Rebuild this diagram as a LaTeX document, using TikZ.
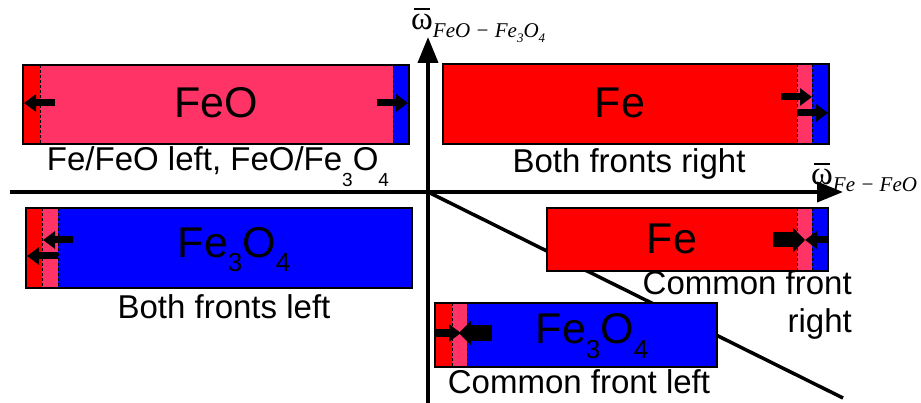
\documentclass[tikz,border=0pt]{standalone}
\usepackage{fontspec}
\setmainfont{Liberation Sans}
\newfontfamily\tnr{Liberation Serif}
\usetikzlibrary{arrows.meta}
\definecolor{cred}{RGB}{255,0,0}
\definecolor{cpink}{RGB}{255,51,102}
\definecolor{cblue}{RGB}{0,0,255}
\newcommand{\phsub}[3]{\raisebox{#1}{\fontsize{#2}{#2}\selectfont #3}}
\newcommand{\wbar}{{\tnr\fontsize{33}{33}\selectfont\makebox[0pt][l]{\hspace{3pt}\raisebox{20pt}{\rule{16pt}{1.7pt}}}ω}}
\tikzset{
  boxline/.style={draw=black, line width=2pt},
  dashsep/.style={line width=0.8pt, dash pattern=on 3pt off 2pt},
  thinarr/.style={line width=7pt, -{Triangle[length=12pt,width=17pt]}},
  thickarr/.style={line width=15pt, -{Triangle[length=12pt,width=24pt]}},
  axisarr/.style={line width=4pt, -{Triangle[length=26pt,width=20pt]}},
  title/.style={font=\fontsize{43}{43}\selectfont, anchor=base, inner sep=0pt},
  caption/.style={font=\fontsize{33}{33}\selectfont, anchor=base, inner sep=0pt},
  axlabel/.style={anchor=base west, inner sep=0pt},
}
\begin{document}
\begin{tikzpicture}[x=1pt,y=-1pt]
\useasboundingbox (0,0) rectangle (921,403);
% axes
\coordinate (O) at (428,192);
\coordinate (ybot) at (428,403);
\coordinate (ytop) at (428,37);
\coordinate (xl) at (10,192);
\coordinate (xr) at (843,192);
\coordinate (dend) at (843,398);
\draw[axisarr] (xl) -- (xr);
\draw[axisarr] (ybot) -- (ytop);
\draw[line width=3.5pt] (O) -- (dend);
\node[axlabel] (wy) at (411,30) {\wbar\phsub{-8pt}{21}{\tnr\itshape FeO − Fe\phsub{-5pt}{13}{3}O\phsub{-5pt}{13}{4}}};
\node[axlabel] (wx) at (811,185) {\wbar\phsub{-7pt}{21}{\tnr\itshape Fe − FeO}};

% Box 1: FeO
\fill[cpink] (23,65) rectangle (409,144);
\fill[cred] (23,65) rectangle (40,144);
\fill[cblue] (393,65) rectangle (409,144);
\draw[dashsep] (40,65) -- (40,144);
\draw[dashsep] (393,65) -- (393,144);
\draw[boxline] (23,65) rectangle (409,144);
\coordinate (a1s) at (55,103); \coordinate (a1t) at (24,103);
\coordinate (a2s) at (377,103); \coordinate (a2t) at (408,103);
\draw[thinarr] (a1s) -- (a1t);
\draw[thinarr] (a2s) -- (a2t);
\node[title] (t1) at (216,118) {FeO};
\node[caption] (c1) at (218,171) {Fe/FeO left, FeO/Fe\phsub{-16pt}{19}{3}O\phsub{-16pt}{19}{4}};

% Box 2: Fe (both right)
\fill[cred] (443,64) rectangle (829,144);
\fill[cpink] (797,64) rectangle (812,144);
\fill[cblue] (812,64) rectangle (829,144);
\draw[dashsep] (797,64) -- (797,144);
\draw[dashsep] (812,64) -- (812,144);
\draw[boxline] (443,64) rectangle (829,144);
\coordinate (b1s) at (781,97); \coordinate (b1t) at (812,97);
\coordinate (b2s) at (797,113); \coordinate (b2t) at (828,113);
\draw[thinarr] (b1s) -- (b1t);
\draw[thinarr] (b2s) -- (b2t);
\node[title] (t2) at (620,118) {Fe};
\node[caption] (c2) at (629,173) {Both fronts right};

% Box 3: Fe3O4 (both left)
\fill[cblue] (26,208) rectangle (412,288);
\fill[cred] (26,208) rectangle (42,288);
\fill[cpink] (42,208) rectangle (58,288);
\draw[dashsep] (42,208) -- (42,288);
\draw[dashsep] (58,208) -- (58,288);
\draw[boxline] (26,208) rectangle (412,288);
\coordinate (c1s) at (73,240); \coordinate (c1t) at (43,240);
\coordinate (c2s) at (58,256); \coordinate (c2t) at (27,256);
\draw[thinarr] (c1s) -- (c1t);
\draw[thinarr] (c2s) -- (c2t);
\node[title] (t3) at (234,258) {Fe\phsub{-14pt}{26}{3}O\phsub{-14pt}{26}{4}};
\node[caption] (c3) at (224,319) {Both fronts left};

% Box 4: Fe (common front right)
\fill[cred] (547,208) rectangle (828,271);
\fill[cpink] (797,208) rectangle (812,271);
\fill[cblue] (812,208) rectangle (828,271);
\draw[dashsep] (797,208) -- (797,271);
\draw[dashsep] (812,208) -- (812,271);
\draw[boxline] (547,208) rectangle (828,271);
\coordinate (d1s) at (773,240); \coordinate (d1t) at (805,240);
\coordinate (d2s) at (828,240); \coordinate (d2t) at (805,240);
\draw[thickarr] (d1s) -- (d1t);
\draw[thinarr] (d2s) -- (d2t);
\node[title] (t4) at (672,254) {Fe};
\node[caption, anchor=base east] (c4a) at (852,295) {Common front};
\node[caption, anchor=base east] (c4b) at (852,332) {right};

% Box 5: Fe3O4 (common front left)
\fill[cblue] (435,303) rectangle (717,367);
\fill[cred] (435,303) rectangle (452,367);
\fill[cpink] (452,303) rectangle (467,367);
\draw[dashsep] (452,303) -- (452,367);
\draw[dashsep] (467,303) -- (467,367);
\draw[boxline] (435,303) rectangle (717,367);
\coordinate (e1s) at (436,333); \coordinate (e1t) at (461,333);
\coordinate (e2s) at (492,333); \coordinate (e2t) at (459,333);
\draw[thinarr] (e1s) -- (e1t);
\draw[thickarr] (e2s) -- (e2t);
\node[title] (t5) at (592,343) {Fe\phsub{-15pt}{26}{3}O\phsub{-15pt}{26}{4}};
\node[caption] (c5) at (579,393) {Common front left};
\end{tikzpicture}
\end{document}
